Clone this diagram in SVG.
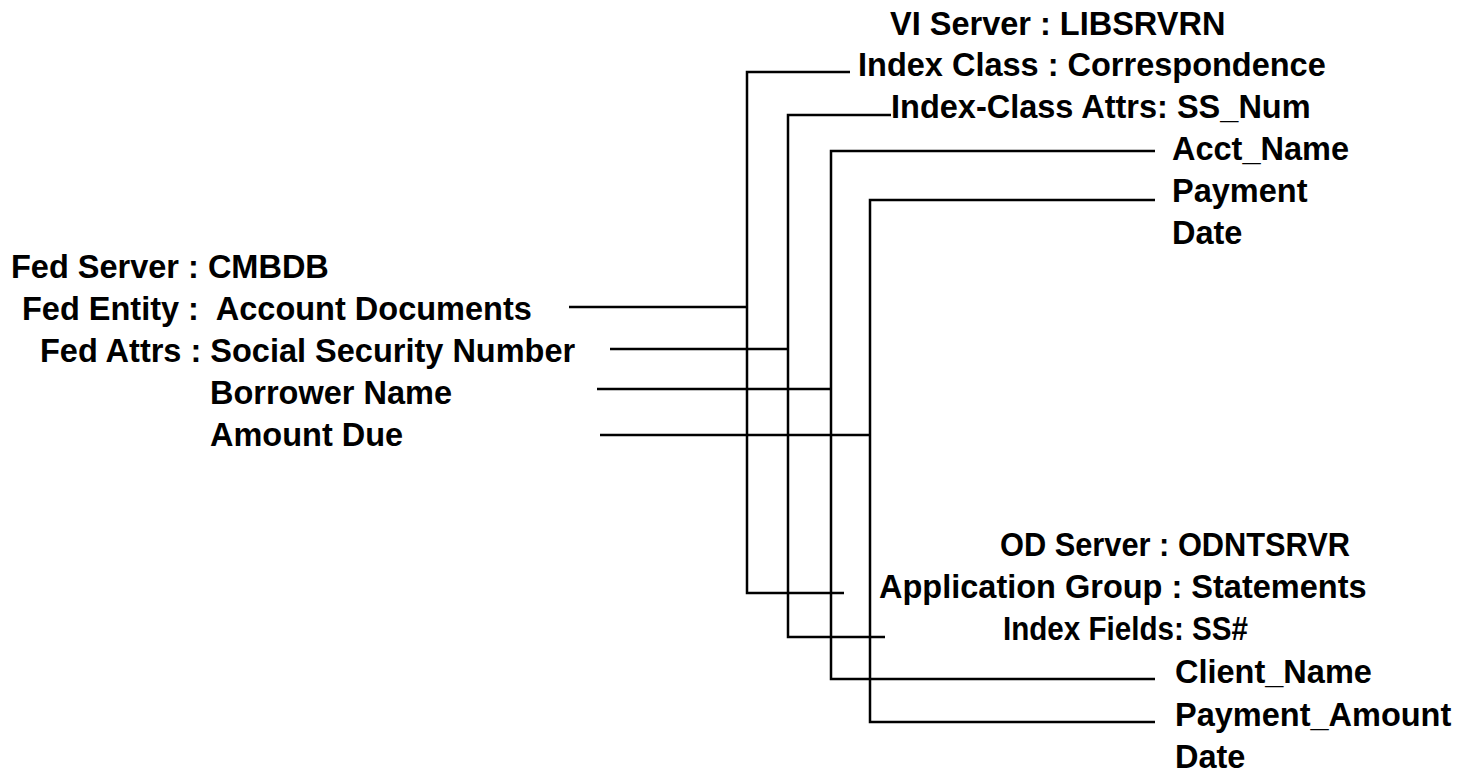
<svg xmlns="http://www.w3.org/2000/svg" width="1470" height="774" viewBox="0 0 1470 774">
<style>
text{font-family:"Liberation Sans",Arial,sans-serif;font-weight:bold;font-size:32.5px;fill:#000}
.ln{stroke:#000;stroke-width:2.5;fill:none}
</style>
<rect width="1470" height="774" fill="#fff"/>
<g id="vi-server">
<text x="890" y="35">VI Server : LIBSRVRN</text>
<text x="858" y="76">Index Class : Correspondence</text>
<text x="891" y="118">Index-Class Attrs: SS_Num</text>
<text x="1172" y="160">Acct_Name</text>
<text x="1172" y="202">Payment</text>
<text x="1172" y="244">Date</text>
</g>
<g id="fed-server">
<text x="11" y="278">Fed Server : CMBDB</text>
<text x="22" y="320" xml:space="preserve">Fed Entity :  Account Documents</text>
<text x="40" y="362">Fed Attrs : Social Security Number</text>
<text x="210" y="404">Borrower Name</text>
<text x="210" y="446">Amount Due</text>
</g>
<g id="od-server">
<text x="1000" y="556" textLength="350" lengthAdjust="spacingAndGlyphs">OD Server : ODNTSRVR</text>
<text x="879" y="598">Application Group : Statements</text>
<text x="1003" y="640" textLength="245" lengthAdjust="spacingAndGlyphs">Index Fields: SS#</text>
<text x="1175" y="683">Client_Name</text>
<text x="1175" y="726">Payment_Amount</text>
<text x="1175" y="768">Date</text>
</g>
<g id="connectors" class="ln">
<path d="M850 72 H747 V593 H844"/>
<path d="M891 115 H788 V637 H885"/>
<path d="M1155 151 H831 V679 H1155"/>
<path d="M1155 200 H870 V722 H1155"/>
<path d="M569 307 H747"/>
<path d="M610 349 H788"/>
<path d="M597 389 H831"/>
<path d="M600 435 H870"/>
</g>
</svg>
